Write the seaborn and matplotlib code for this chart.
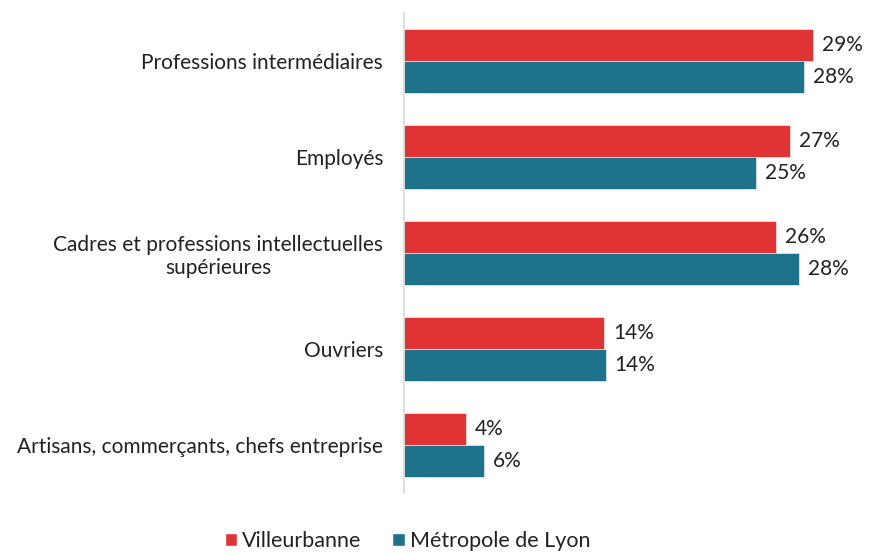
import matplotlib
matplotlib.use("Agg")
import matplotlib.pyplot as plt
import seaborn as sns
import pandas as pd
from matplotlib.patches import Patch

categories = [
    "Professions intermédiaires",
    "Employés",
    "Cadres et professions intellectuelles\nsupérieures",
    "Ouvriers",
    "Artisans, commerçants, chefs entreprise",
]
villeurbanne = [29.0, 27.4, 26.4, 14.2, 4.4]
metropole = [28.4, 25.0, 28.0, 14.3, 5.7]
series = ["Villeurbanne", "Métropole de Lyon"]
colors = ["#E03434", "#1D7389"]

df = pd.DataFrame({
    "categorie": categories * 2,
    "valeur": villeurbanne + metropole,
    "serie": [series[0]] * len(categories) + [series[1]] * len(categories),
})

sns.set_style("white")
plt.rcParams["font.family"] = ["Lato", "DejaVu Sans"]

fig = plt.figure(figsize=(8.69, 5.54), dpi=100)
ax = fig.add_axes([404 / 869, 1 - 493 / 554, 451 / 869, 480 / 554])

sns.barplot(
    data=df, x="valeur", y="categorie", hue="serie",
    palette=colors, saturation=1, width=0.667, ax=ax, legend=False,
    edgecolor="white", linewidth=0.4,
)

# Value labels at the end of each bar
for container in ax.containers:
    ax.bar_label(
        container,
        labels=[f"{round(v.get_width())}%" for v in container],
        padding=6.5, fontsize=15, color="#222222",
    )

ax.set_xlim(0, 32)
ax.set_ylim(4.5, -0.5)
ax.set_xlabel("")
ax.set_ylabel("")
ax.set_xticks([])
for side in ["top", "right", "bottom"]:
    ax.spines[side].set_visible(False)
ax.spines["left"].set_color("#d9d9d9")
ax.spines["left"].set_linewidth(1.2)
ax.tick_params(axis="y", length=0, pad=15, labelsize=15, labelcolor="#222222")
for label in ax.get_yticklabels():
    label.set_multialignment("center")

handles = [Patch(facecolor=c, label=s) for c, s in zip(colors, series)]
fig.legend(
    handles=handles, loc="lower center", bbox_to_anchor=(0.469, -0.03),
    ncol=2, frameon=False, fontsize=15.5, handlelength=0.56, handleheight=0.56,
    handletextpad=0.23, columnspacing=1.44, labelcolor="#222222",
)

fig.savefig("out.png", dpi=100)
